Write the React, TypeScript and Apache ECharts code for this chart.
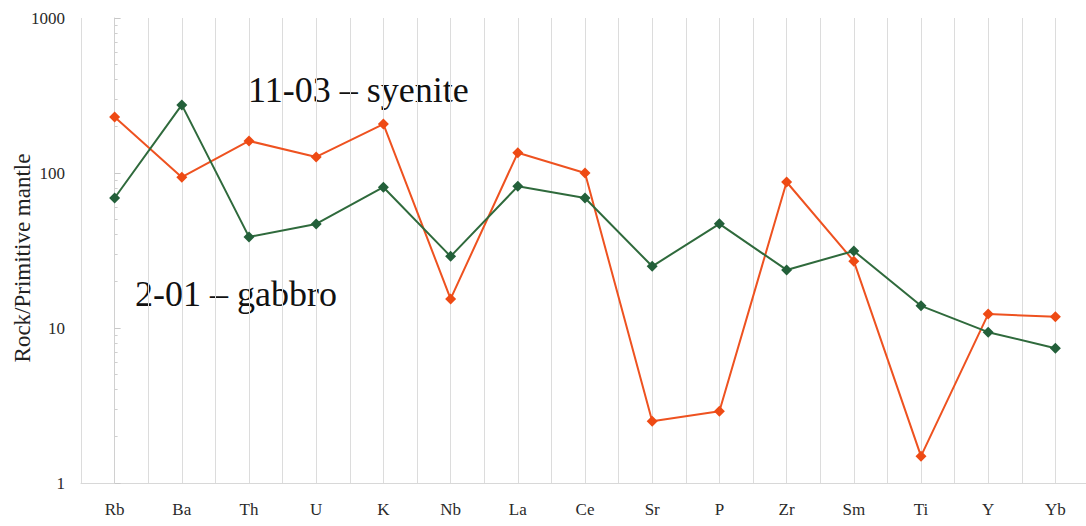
import React, { useEffect, useRef } from "react";
import * as echarts from "echarts";

const categories = ["Rb", "Ba", "Th", "U", "K", "Nb", "La", "Ce", "Sr", "P", "Zr", "Sm", "Ti", "Y", "Yb"];
const syenite = [230, 94, 161, 127, 207, 15.4, 135, 100, 2.5, 2.9, 87.5, 27, 1.49, 12.3, 11.8];
const gabbro = [69, 275, 38.7, 46.9, 81, 29, 82, 69, 25, 47, 23.7, 31.4, 13.9, 9.4, 7.4];
const yTicks = [1, 10, 100, 1000];
const yTitle = "Rock/Primitive mantle";

const FONT = "Liberation Serif";

export default function App() {
  const ref = useRef<HTMLDivElement>(null);
  useEffect(() => {
    document.body.style.margin = "0";
    const chart = echarts.init(ref.current!, null, { renderer: "svg" });
    const toPts = (arr: number[]) => arr.map((v, i) => [i, v]);
    chart.setOption({
      animation: false,
      backgroundColor: "#ffffff",
      textStyle: { fontFamily: FONT },
      grid: { left: 81, right: -3, top: 18, bottom: 43, outerBoundsMode: "none", containLabel: false },
      xAxis: {
        type: "value",
        min: -0.5,
        max: categories.length - 0.5,
        interval: 0.5,
        axisLine: { show: true, lineStyle: { color: "#d8d8d8" } },
        axisTick: { show: false },
        splitLine: { show: true, lineStyle: { color: "#dcdcdc", width: 1 } },
        axisLabel: {
          margin: 18,
          fontFamily: FONT,
          fontSize: 17,
          color: "#2a2a2a",
          formatter: (v: number) => (Number.isInteger(v) && v >= 0 ? categories[v] ?? "" : ""),
        },
      },
      yAxis: {
        type: "log",
        logBase: 10,
        min: yTicks[0],
        max: yTicks[yTicks.length - 1],
        axisLine: { show: true, lineStyle: { color: "#d0d0d0" } },
        axisTick: { show: true, inside: true, length: 6, lineStyle: { color: "#c8c8c8" } },
        minorTick: { show: true, splitNumber: 9, length: 3, lineStyle: { color: "#cfcfcf" } },
        splitLine: { show: false },
        axisLabel: {
          fontFamily: FONT,
          fontSize: 17,
          color: "#2a2a2a",
          margin: 16,
          formatter: (v: number) => String(Math.round(v)),
        },
      },
      series: [
        {
          name: "11-03 – syenite",
          type: "line",
          data: toPts(syenite),
          symbol: "diamond",
          symbolSize: 11,
          lineStyle: { color: "#ee5220", width: 2 },
          itemStyle: { color: "#ee4a14" },
        },
        {
          name: "2-01 – gabbro",
          type: "line",
          data: toPts(gabbro),
          symbol: "diamond",
          symbolSize: 11,
          lineStyle: { color: "#2f6a3c", width: 2 },
          itemStyle: { color: "#23603a" },
        },
      ],
      graphic: [
        {
          type: "text",
          x: 22,
          y: 258,
          rotation: Math.PI / 2,
          style: {
            text: yTitle,
            fontFamily: FONT,
            fontSize: 23,
            fill: "#222",
            align: "center",
            verticalAlign: "middle",
          },
        },
        {
          type: "text",
          left: 248,
          top: 72,
          style: { text: "11-03 – syenite", fontFamily: FONT, fontSize: 36, fill: "#111" },
        },
        {
          type: "text",
          left: 135,
          top: 276,
          style: { text: "2-01 – gabbro", fontFamily: FONT, fontSize: 36, fill: "#111" },
        },
      ],
    });
    return () => chart.dispose();
  }, []);
  return <div ref={ref} style={{ width: 1086, height: 526 }} />;
}
